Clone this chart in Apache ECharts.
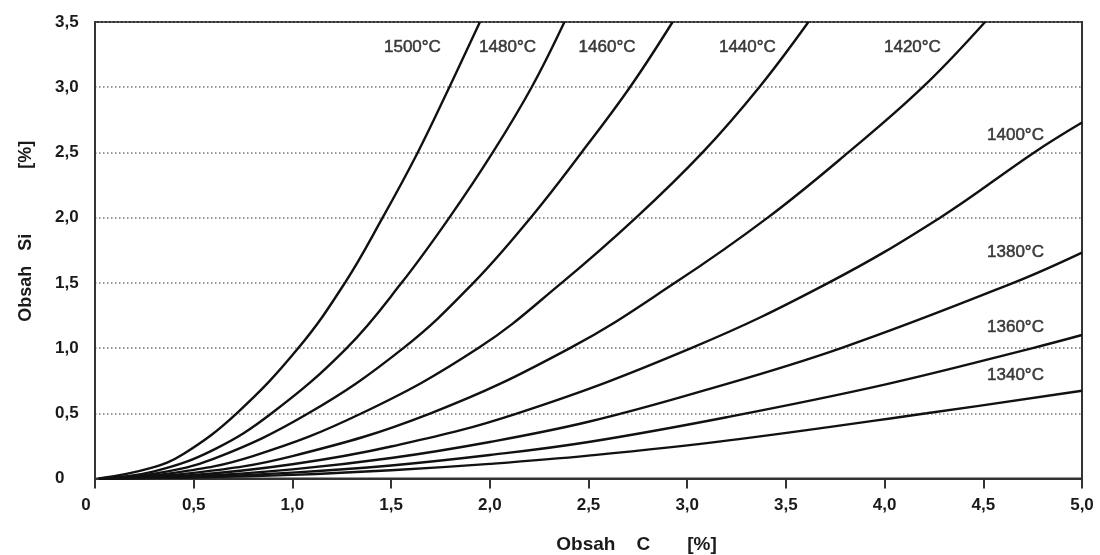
<!DOCTYPE html>
<html>
<head>
<meta charset="utf-8">
<script src="https://cdn.jsdelivr.net/npm/echarts@6/dist/echarts.min.js"></script>
<style>html,body{margin:0;padding:0;background:#fff}#c{width:1100px;height:555px}</style>
</head>
<body>
<div id="c"></div>
<script>
// Curve readings: [C %, Si %]
const c1500 = [[0.02,0],[0.28,0.08],[0.45,0.19],[0.718,0.5],[1.03,1.0],[1.266,1.5],[1.457,2.0],[1.635,2.5],[1.795,3.0],[1.95,3.5]];
const c1480 = [[0.02,0],[0.3,0.055],[0.6,0.22],[0.895,0.5],[1.275,1.0],[1.553,1.5],[1.795,2.0],[2.015,2.5],[2.212,3.0],[2.378,3.5]];
const c1460 = [[0.02,0],[0.3,0.037],[0.6,0.15],[1.081,0.5],[1.562,1.0],[1.917,1.5],[2.207,2.0],[2.465,2.5],[2.71,3.0],[2.926,3.5]];
const c1440 = [[0.02,0],[0.4,0.043],[0.8,0.172],[1.351,0.5],[1.942,1.0],[2.364,1.5],[2.741,2.0],[3.078,2.5],[3.365,3.0],[3.614,3.5]];
const c1420 = [[0.02,0],[0.5,0.043],[1.0,0.172],[1.70,0.5],[2.406,1.0],[2.938,1.5],[3.408,2.0],[3.816,2.5],[4.193,3.0],[4.509,3.5]];
const c1400 = [[0.02,0],[0.5,0.027],[1.0,0.109],[1.5,0.245],[2.14,0.5],[3.02,1.0],[3.715,1.5],[4.281,2.0],[4.758,2.5],[5.0,2.729]];
const c1380 = [[0.02,0],[0.5,0.018],[1.0,0.07],[1.5,0.157],[2.0,0.28],[2.5,0.435],[3.065,0.666],[3.78,1.0],[4.652,1.5],[5.0,1.732]];
const c1360 = [[0.02,0],[0.5,0.012],[1.0,0.045],[1.5,0.1],[2.0,0.18],[2.5,0.28],[3.2,0.47],[4.0,0.72],[4.75,1.0],[5.0,1.10]];
const c1340 = [[0.02,0],[0.5,0.008],[1.0,0.028],[1.5,0.063],[2.0,0.112],[2.5,0.175],[3.2,0.29],[4.213,0.5],[5.0,0.673]];

const temps = ['1500°C','1480°C','1460°C','1440°C','1420°C','1400°C','1380°C','1360°C','1340°C'];
const curves = [c1500,c1480,c1460,c1440,c1420,c1400,c1380,c1360,c1340];
// label anchor points in data coordinates
const labelAt = [[1.608,3.309],[2.090,3.309],[2.594,3.309],[3.305,3.309],[4.141,3.309],[4.663,2.634],[4.663,1.732],[4.663,1.156],[4.663,0.794]];

const xTicks = ['0','0,5','1,0','1,5','2,0','2,5','3,0','3,5','4,0','4,5','5,0'];
const yTicks = ['0','0,5','1,0','1,5','2,0','2,5','3,0','3,5'];

const FONT = "'Liberation Sans', Arial, sans-serif";
const chart = echarts.init(document.getElementById('c'), null, {renderer:'canvas'});

const series = curves.map((d,i)=>({
  name: temps[i], type:'line', data:d, smooth:0.4,
  showSymbol:false, symbol:'none', silent:true,
  lineStyle:{color:'#111', width:2.4}, z:3
}));
series.push({
  type:'scatter', silent:true, symbolSize:1, z:5,
  itemStyle:{color:'rgba(0,0,0,0)'},
  data: labelAt.map((p,i)=>({value:p, label:{formatter:temps[i]}})),
  label:{show:true, position:'inside', color:'#111', textBorderColor:'#111', textBorderWidth:0.5,
         fontFamily:FONT, fontSize:17, fontWeight:'normal'}
});

chart.setOption({
  animation:false,
  backgroundColor:'#fff',
  grid:{left:95, right:18, top:22, bottom:76.5, outerBoundsMode:'none', containLabel:false,
        show:true, borderColor:'#333', borderWidth:2, backgroundColor:'transparent'},
  xAxis:{
    type:'value', min:0, max:5, interval:0.5,
    name:'Obsah    C       [%]', nameLocation:'middle', nameGap:57,
    nameTextStyle:{fontFamily:FONT, fontSize:19, fontWeight:'bold', color:'#1a1a1a', padding:[0,0,0,96]},
    axisLine:{show:true, lineStyle:{color:'#333', width:2}},
    axisTick:{show:true, inside:false, length:10, lineStyle:{color:'#333', width:2}},
    splitLine:{show:false},
    axisLabel:{
      margin:18, fontFamily:FONT, fontSize:17, fontWeight:'bold', color:'#1a1a1a',
      formatter:(v)=>{const i=Math.round(v/0.5); return i===0 ? '{z|'+xTicks[i]+'}' : xTicks[i];},
      rich:{z:{fontFamily:FONT, fontSize:17, fontWeight:'bold', color:'#1a1a1a', padding:[0,18,0,0]}}
    }
  },
  yAxis:{
    type:'value', min:0, max:3.5, interval:0.5,
    name:'Obsah   Si             [%]', nameLocation:'middle', nameGap:60,
    nameTextStyle:{fontFamily:FONT, fontSize:18, fontWeight:'bold', color:'#1a1a1a', padding:[0,0,0,38]},
    axisLine:{show:true, lineStyle:{color:'#333', width:2}},
    axisTick:{show:false},
    splitLine:{show:true, lineStyle:{color:'#777', width:1.5, type:[1.5,2.5]}},
    axisLabel:{
      margin:40, align:'left', fontFamily:FONT, fontSize:17, fontWeight:'bold', color:'#1a1a1a',
      formatter:(v)=>yTicks[Math.round(v/0.5)]
    }
  },
  series: series
});
</script>
</body>
</html>
